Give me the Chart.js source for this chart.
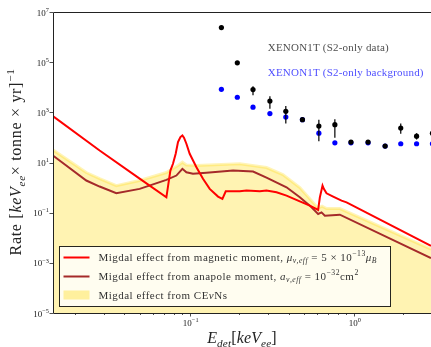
<!DOCTYPE html>
<html>
<head>
<meta charset="utf-8">
<script src="https://cdn.jsdelivr.net/npm/chart.js@4.4.1/dist/chart.umd.min.js"></script>
<style>
  html, body { margin: 0; padding: 0; background: #fff; }
</style>
</head>
<body>
<canvas id="rateChart" width="431" height="347"></canvas>
<script>
// Migdal rate from the magnetic moment (keV_ee, events / keV_ee / tonne / yr)
const magE = [0.01467, 0.02827, 0.04956, 0.0721, 0.07626, 0.0791, 0.08215, 0.08486, 0.08777, 0.09026,
  0.0923, 0.09548, 0.1, 0.1099, 0.1205, 0.1324, 0.1488, 0.1582, 0.1658, 0.2018, 0.2217, 0.2673, 0.2936,
  0.338, 0.3888, 0.4686, 0.5391, 0.6058, 0.6206, 0.6443, 0.6562, 0.6816, 0.7478, 0.8414, 0.9026, 2.948];
const magRate = [711, 30.2, 2.29, 0.409, 4.79, 8.87, 22.3, 64.9, 103, 120,
  97, 56, 22.3, 6.49, 2.23, 0.887, 0.437, 0.353, 0.711, 0.711, 0.759, 0.711, 0.759,
  0.649, 0.479, 0.283, 0.191, 0.128, 0.409, 1.2, 0.887, 0.592, 0.437, 0.302, 0.258, 0.00479];

// Migdal rate from the anapole moment
const anaE = [0.01467, 0.02345, 0.02827, 0.03573, 0.04956, 0.0721, 0.08296, 0.09026, 0.09548, 0.1047,
  0.1264, 0.1837, 0.2432, 0.2936, 0.3888, 0.4686, 0.5391, 0.6058, 0.6353, 0.6656, 0.8214, 2.948];
const anaRate = [19.1, 1.91, 1.1, 0.592, 0.887, 2.03, 3.02, 5.6, 4.09, 3.53,
  3.87, 4.79, 4.37, 2.51, 1.03, 0.409, 0.191, 0.0887, 0.103, 0.0759, 0.0832, 0.00154];

// Migdal rate from CEvNS (filled band)
const cevnsE = [0.01467, 0.02345, 0.02827, 0.03573, 0.04956, 0.0721, 0.08486, 0.09026, 0.09548, 0.1099,
  0.2018, 0.2936, 0.3691, 0.4686, 0.6058, 0.64, 0.6816, 0.8214, 2.948];
const cevnsRate = [32.2, 3.98, 2.29, 1.2, 1.91, 3.98, 7.59, 10.3, 7.94, 7.59,
  8.87, 6.31, 3.31, 1.0, 0.151, 0.182, 0.145, 0.145, 0.00353];

// XENON1T S2-only bins
const binE = [0.156, 0.195, 0.243, 0.308, 0.385, 0.486, 0.612, 0.766, 0.96, 1.22, 1.55, 1.93, 2.41, 3.01];
const dataRate = [2.4e6, 9.4e4, 8.1e3, 2.8e3, 1.1e3, 510, 284, 322, 65, 65, 45, 236, 112, 145];
const dataLow = [null, null, 4.8e3, 1.4e3, 355, null, 71, 98, null, null, null, 140, 82, null];
const dataHigh = [null, null, 1.1e4, 4.4e3, 1.8e3, null, 510, 525, null, null, null, 355, 148, null];
const bkgRate = [8.3e3, 4.0e3, 1.6e3, 890, 650, 510, 148, 61, 61, 61, 45, 56, 56, 56];

const yTicks = [1e-5, 1e-3, 1e-1, 1e1, 1e3, 1e5, 1e7];
const xTicks = [0.02, 0.03, 0.04, 0.05, 0.06, 0.07, 0.08, 0.09, 0.1,
  0.2, 0.3, 0.4, 0.5, 0.6, 0.7, 0.8, 0.9, 1, 2];

const SERIF = '"Liberation Serif", "DejaVu Serif", serif';
const log10 = v => Math.log10(v);
const isPow10 = v => Math.abs(log10(v) - Math.round(log10(v))) < 1e-6;

const pts = (xs, ys) => xs.map((x, i) => ({ x: x, y: ys[i] }));

// rich text: parts are [text, flags] with flags i = italic, b = subscript, p = superscript
function setFont(ctx, f, size) {
  const s = (f.includes('b') || f.includes('p')) ? size * 0.7 : size;
  ctx.font = (f.includes('i') ? 'italic ' : '') + s + 'px ' + SERIF;
}
function richWidth(ctx, parts, size, sp = 0) {
  let w = 0;
  ctx.letterSpacing = sp + 'px';
  parts.forEach(([t, f = '']) => { setFont(ctx, f, size); w += ctx.measureText(t).width; });
  ctx.letterSpacing = '0px';
  return w;
}
function drawRich(ctx, parts, x, y, size, color, sp = 0) {
  ctx.fillStyle = color;
  ctx.textBaseline = 'alphabetic';
  ctx.textAlign = 'left';
  ctx.letterSpacing = sp + 'px';
  parts.forEach(([t, f = '']) => {
    setFont(ctx, f, size);
    let dy = 0;
    if (f.includes('b')) dy = size * 0.22;
    if (f.includes('p')) dy = -size * 0.42;
    ctx.fillText(t, x, y + dy);
    x += ctx.measureText(t).width;
  });
  ctx.letterSpacing = '0px';
  return x;
}
const powParts = v => [['10'], [String(Math.round(log10(v))).replace('-', '−'), 'p']];

const frame = {
  id: 'frame',
  afterDraw(chart) {
    const { ctx, chartArea: a, scales } = chart;
    ctx.save();
    ctx.strokeStyle = '#222';
    ctx.lineWidth = 1;
    // spines (right one falls off the canvas)
    ctx.beginPath();
    ctx.moveTo(a.right + 1, a.top + 0.5);
    ctx.lineTo(a.left + 0.5, a.top + 0.5);
    ctx.lineTo(a.left + 0.5, a.bottom + 0.5);
    ctx.lineTo(a.right + 1, a.bottom + 0.5);
    ctx.stroke();
    // ticks
    ctx.beginPath();
    scales.y.ticks.forEach(t => {
      const py = Math.round(scales.y.getPixelForValue(t.value)) + 0.5;
      ctx.moveTo(a.left, py);
      ctx.lineTo(a.left - 3.5, py);
    });
    scales.x.ticks.forEach(t => {
      const px = Math.round(scales.x.getPixelForValue(t.value)) + 0.5;
      ctx.moveTo(px, a.bottom);
      ctx.lineTo(px, a.bottom + (isPow10(t.value) ? 3.5 : 2));
    });
    ctx.lineWidth = 0.8;
    ctx.stroke();

    // tick labels
    const tfs = 9;
    scales.y.ticks.forEach(t => {
      const p = powParts(t.value);
      const w = richWidth(ctx, p, tfs);
      drawRich(ctx, p, a.left - 4 - w, scales.y.getPixelForValue(t.value) + 3.5, tfs, '#222');
    });
    scales.x.ticks.forEach(t => {
      if (!isPow10(t.value)) return;
      const p = powParts(t.value);
      const w = richWidth(ctx, p, tfs);
      drawRich(ctx, p, scales.x.getPixelForValue(t.value) - w / 2 + 1, a.bottom + 13, tfs, '#222');
    });

    // axis titles
    const xt = [['E', 'i'], ['det', 'ib'], ['['], ['keV', 'i'], ['ee', 'ib'], [']']];
    const xw = richWidth(ctx, xt, 16, 0.15);
    drawRich(ctx, xt, (a.left + a.right) / 2 - xw / 2, 343, 16, '#222', 0.15);

    const yt = [['Rate ['], ['keV', 'i'], ['ee', 'ib'], ['× tonne × yr]'], ['−1', 'p']];
    const yw = richWidth(ctx, yt, 16, 0.7);
    ctx.save();
    ctx.translate(21, 162);
    ctx.rotate(-Math.PI / 2);
    drawRich(ctx, yt, -yw / 2, 0, 16, '#222', 0.7);
    ctx.restore();

    // dataset captions
    const o = chart.options.plugins.frame;
    const cx = scales.x.getPixelForValue(o.captionE);
    drawRich(ctx, [['XENON1T (S2-only data)']], cx, scales.y.getPixelForValue(o.dataCaptionRate) + 4, 11, 'rgba(0,0,0,0.72)', 0.2);
    drawRich(ctx, [['XENON1T (S2-only background)']], cx, scales.y.getPixelForValue(o.bkgCaptionRate) + 4, 11, 'rgba(0,0,255,0.72)', 0.2);
    ctx.restore();
  }
};

// vertical error bars on the data points
const errorBars = {
  id: 'errorBars',
  afterDatasetsDraw(chart) {
    const { ctx, chartArea: a, scales } = chart;
    ctx.save();
    ctx.beginPath();
    ctx.rect(a.left, a.top, a.right - a.left, a.bottom - a.top);
    ctx.clip();
    ctx.strokeStyle = '#000';
    ctx.lineWidth = 1.2;
    ctx.beginPath();
    binE.forEach((e, i) => {
      if (dataLow[i] == null) return;
      const px = scales.x.getPixelForValue(e);
      ctx.moveTo(px, scales.y.getPixelForValue(dataLow[i]));
      ctx.lineTo(px, scales.y.getPixelForValue(dataHigh[i]));
    });
    ctx.stroke();
    ctx.restore();
  }
};

const legendBox = {
  id: 'legendBox',
  afterDraw(chart) {
    const { ctx, chartArea: a } = chart;
    const x0 = a.left + 6.5, y0 = a.bottom - 66.5, w = 331, h = 60;
    ctx.save();
    ctx.fillStyle = 'rgba(255,255,255,0.8)';
    ctx.fillRect(x0, y0, w, h);
    ctx.strokeStyle = 'rgba(0,0,0,0.85)';
    ctx.lineWidth = 1;
    ctx.strokeRect(x0, y0, w, h);
    const rows = [y0 + 11, y0 + 30, y0 + 48.5];
    ctx.lineWidth = 2;
    ctx.strokeStyle = '#ff0000';
    ctx.beginPath(); ctx.moveTo(x0 + 4, rows[0]); ctx.lineTo(x0 + 30, rows[0]); ctx.stroke();
    ctx.strokeStyle = '#a52a2a';
    ctx.beginPath(); ctx.moveTo(x0 + 4, rows[1]); ctx.lineTo(x0 + 30, rows[1]); ctx.stroke();
    ctx.fillStyle = 'rgba(255,215,0,0.35)';
    ctx.fillRect(x0 + 4, rows[2] - 4.5, 26, 9);
    const fs = 11, sp = 0.48, tx = x0 + 39, tc = '#333';
    drawRich(ctx, [['Migdal effect from magnetic moment, '], ['μ', 'i'], ['ν,eff', 'ib'], [' = 5 × 10'], ['−13', 'p'], ['μ', 'i'], ['B', 'ib']], tx, rows[0] + 3.5, fs, tc, sp);
    drawRich(ctx, [['Migdal effect from anapole moment, '], ['a', 'i'], ['ν,eff', 'ib'], [' = 10'], ['−32', 'p'], ['cm'], ['2', 'p']], tx, rows[1] + 3.5, fs, tc, sp);
    drawRich(ctx, [['Migdal effect from CE'], ['ν', 'i'], ['Ns']], tx, rows[2] + 3.5, fs, tc, sp);
    ctx.restore();
  }
};

new Chart(document.getElementById('rateChart'), {
  type: 'line',
  data: {
    datasets: [
      {
        type: 'scatter', data: pts(binE, dataRate), order: 0,
        pointRadius: 2.6, pointBackgroundColor: '#000', pointBorderWidth: 0
      },
      {
        type: 'scatter', data: pts(binE, bkgRate), order: 1,
        pointRadius: 2.6, pointBackgroundColor: '#0000ff', pointBorderWidth: 0
      },
      {
        data: pts(magE, magRate), order: 2,
        borderColor: '#ff0000', borderWidth: 2, pointRadius: 0, tension: 0, fill: false
      },
      {
        data: pts(anaE, anaRate), order: 3,
        borderColor: '#a52a2a', borderWidth: 2, pointRadius: 0, tension: 0, fill: false
      },
      {
        data: pts(cevnsE, cevnsRate), order: 4,
        borderColor: 'rgba(255,215,0,0.28)', borderWidth: 3, pointRadius: 0, tension: 0,
        fill: 'start', backgroundColor: 'rgba(255,215,0,0.3)'
      }
    ]
  },
  options: {
    responsive: false,
    animation: false,
    layout: { autoPadding: false, padding: { top: 12, right: 0, left: 0, bottom: 0 } },
    plugins: {
      legend: { display: false },
      tooltip: { enabled: false },
      frame: { captionE: 0.299, dataCaptionRate: 4.1e5, bkgCaptionRate: 4.1e4 }
    },
    scales: {
      x: {
        type: 'logarithmic', min: 0.0147, max: 2.95,
        afterBuildTicks: s => { s.ticks = xTicks.map(v => ({ value: v })); },
        afterFit: s => { s.height = 34; },
        grid: { display: false },
        border: { display: false },
        ticks: { display: false }
      },
      y: {
        type: 'logarithmic', min: 1e-5, max: 1e7,
        afterBuildTicks: s => { s.ticks = yTicks.map(v => ({ value: v })); },
        afterFit: s => { s.width = 53; },
        grid: { display: false },
        border: { display: false },
        ticks: { display: false }
      }
    }
  },
  plugins: [errorBars, frame, legendBox]
});
</script>
</body>
</html>
